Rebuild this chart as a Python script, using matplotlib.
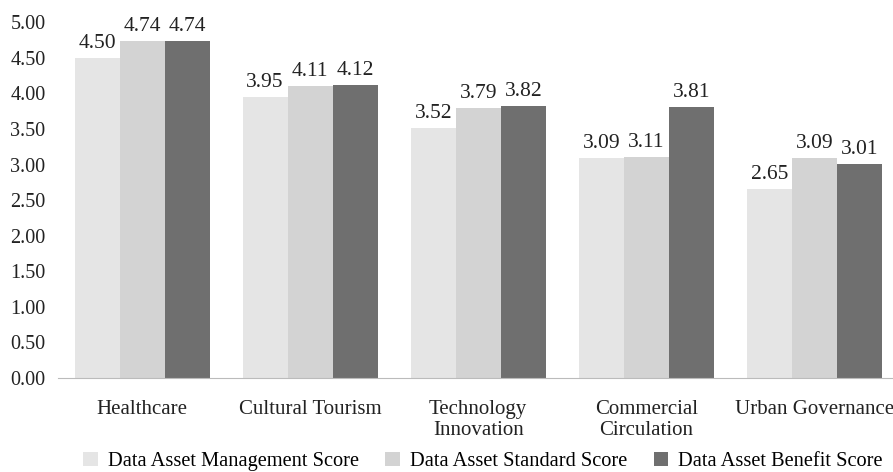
import numpy as np
import matplotlib.pyplot as plt

plt.rcParams['font.family'] = ['Liberation Serif', 'DejaVu Serif']

categories = ['Healthcare', 'Cultural Tourism', 'Technology\nInnovation',
              'Commercial\nCirculation', 'Urban Governance']
management = [4.50, 3.95, 3.52, 3.09, 2.65]
standard = [4.74, 4.11, 3.79, 3.11, 3.09]
benefit = [4.74, 4.12, 3.82, 3.81, 3.01]

series = [
    ('Data Asset Management Score', management, '#e5e5e5'),
    ('Data Asset Standard Score', standard, '#d3d3d3'),
    ('Data Asset Benefit Score', benefit, '#6f6f6f'),
]

fig = plt.figure(figsize=(8.93, 4.72), dpi=100)
ax = fig.add_axes([0.065, 0.199, 0.941, 0.754])

x = np.arange(len(categories))
w = 0.268
for i, (name, vals, col) in enumerate(series):
    bars = ax.bar(x + (i - 1) * w, vals, w, color=col, label=name)
    for b, v in zip(bars, vals):
        ax.text(b.get_x() + b.get_width() / 2, v + 0.07, f'{v:.2f}',
                ha='center', va='bottom', fontsize=15.5, color='#222222')

ax.set_xlim(-0.5, len(categories) - 0.5)
ax.set_ylim(0, 5)
ax.set_yticks(np.arange(0, 5.01, 0.5))
ax.set_yticklabels([f'{t:.2f}' for t in np.arange(0, 5.01, 0.5)])
ax.set_xticks(x)
ax.set_xticklabels(categories, linespacing=1.15)
ax.tick_params(axis='both', length=0, colors='#222222')
ax.tick_params(axis='x', pad=16, labelsize=15)
ax.tick_params(axis='y', pad=9, labelsize=14.5)
for s in ['top', 'right', 'left']:
    ax.spines[s].set_visible(False)
ax.spines['bottom'].set_color('#bbbbbb')

fig.legend(loc='center', bbox_to_anchor=(0.541, 0.022), ncol=3, frameon=False,
           fontsize=14.7, handlelength=0.7, handleheight=0.7, columnspacing=1.3,
           handletextpad=0.5)

fig.savefig('out.png', dpi=100)
